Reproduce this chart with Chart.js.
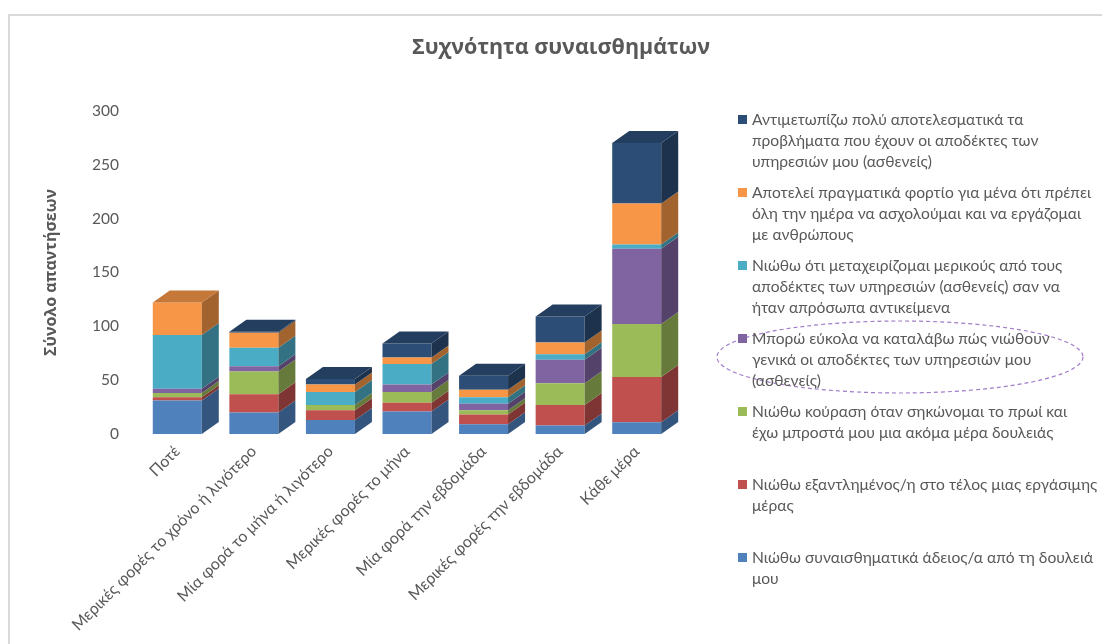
<!DOCTYPE html>
<html>
<head>
<meta charset="utf-8">
<script src="https://cdn.jsdelivr.net/npm/chart.js@4/dist/chart.umd.min.js"></script>
<style>
  html, body { margin: 0; padding: 0; background: #fff; overflow: hidden; }
  #wrap { position: relative; width: 1102px; height: 644px; }
  #frame { position: absolute; left: 8px; top: 14px; width: 1200px; height: 800px; border: 2px solid #d9d9d9; box-sizing: border-box; }
  #myChart { position: absolute; left: 0; top: 0; }
  #legend { position: absolute; left: 738px; top: 109px; width: 364px; font-family: Lato, "Noto Sans", sans-serif; font-size: 15.6px; color: #595959; }
  .item { position: relative; height: 73px; padding-left: 14px; line-height: 21px; white-space: nowrap; }
  .box { position: absolute; left: 0; top: 6px; width: 9px; height: 9px; }
</style>
</head>
<body>
<div id="wrap">
  <div id="frame"></div>
  <canvas id="myChart" width="1102" height="644"></canvas>
  <div id="legend"></div>
</div>
<script>
'use strict';

//Categories on the x axis
var categories = ['Ποτέ', 'Μερικές φορές το χρόνο ή λιγότερο', 'Μία φορά το μήνα ή λιγότερο', 'Μερικές φορές το μήνα', 'Μία φορά την εβδομάδα', 'Μερικές φορές την εβδομάδα', 'Κάθε μέρα'];

//Series names, split the way they wrap in the legend (bottom of the stack first)
var nameEmpty = ['Νιώθω συναισθηματικά άδειος/α από τη δουλειά', 'μου'];
var nameExhausted = ['Νιώθω εξαντλημένος/η στο τέλος μιας εργάσιμης', 'μέρας'];
var nameTired = ['Νιώθω κούραση όταν σηκώνομαι το πρωί και', 'έχω μπροστά μου μια ακόμα μέρα δουλειάς'];
var nameUnderstand = ['Μπορώ εύκολα να καταλάβω πώς νιώθουν', 'γενικά οι αποδέκτες των υπηρεσιών μου', '(ασθενείς)'];
var nameObjects = ['Νιώθω ότι μεταχειρίζομαι μερικούς από τους', 'αποδέκτες των υπηρεσιών (ασθενείς) σαν να', 'ήταν απρόσωπα αντικείμενα'];
var nameBurden = ['Αποτελεί πραγματικά φορτίο για μένα ότι πρέπει', 'όλη την ημέρα να ασχολούμαι και να εργάζομαι', 'με ανθρώπους'];
var nameEffective = ['Αντιμετωπίζω πολύ αποτελεσματικά τα', 'προβλήματα που έχουν οι αποδέκτες των', 'υπηρεσιών μου (ασθενείς)'];

//Answer counts per category
var emptyValues = [31, 20, 13, 21, 9, 8, 11];
var exhaustedValues = [3, 17, 9, 8, 9, 19, 42];
var tiredValues = [4, 21, 5, 10, 4, 20, 49];
var understandValues = [4, 5, 0, 7, 6, 22, 70];
var objectsValues = [50, 17, 12, 19, 6, 5, 4];
var burdenValues = [30, 14, 7, 6, 7, 11, 38];
var effectiveValues = [0, 1, 5, 13, 13, 24, 56];

//Y axis
var yTicks = [0, 50, 100, 150, 200, 250, 300];

var series = [
  { lines: nameEmpty, data: emptyValues, color: '#4f81bd' },
  { lines: nameExhausted, data: exhaustedValues, color: '#c0504d' },
  { lines: nameTired, data: tiredValues, color: '#9bbb59' },
  { lines: nameUnderstand, data: understandValues, color: '#8064a2' },
  { lines: nameObjects, data: objectsValues, color: '#4bacc6' },
  { lines: nameBurden, data: burdenValues, color: '#f79646' },
  { lines: nameEffective, data: effectiveValues, color: '#2c4d75' }
];

var textColor = '#595959';
var depthX = 17;
var depthY = 12;

//Darken a hex colour by a factor
function shade(hex, f) {
  var n = parseInt(hex.slice(1), 16);
  var r = Math.round(((n >> 16) & 255) * f);
  var g = Math.round(((n >> 8) & 255) * f);
  var b = Math.round((n & 255) * f);
  return 'rgb(' + r + ',' + g + ',' + b + ')';
}

//Side and top faces so the stacked columns look like boxes
var boxes = {
  id: 'boxes',
  afterDatasetsDraw: function(chart) {
    var ctx = chart.ctx;
    var metas = chart.getSortedVisibleDatasetMetas();
    ctx.save();
    for (var i = 0; i < categories.length; i++) {
      var topBar = null;
      var topColor = null;
      for (var d = 0; d < metas.length; d++) {
        var bar = metas[d].data[i];
        var value = chart.data.datasets[metas[d].index].data[i];
        if (!value) continue;
        var color = series[metas[d].index].color;
        var right = bar.x + bar.width / 2;
        ctx.fillStyle = shade(color, 0.66);
        ctx.beginPath();
        ctx.moveTo(right, bar.y);
        ctx.lineTo(right + depthX, bar.y - depthY);
        ctx.lineTo(right + depthX, bar.base - depthY);
        ctx.lineTo(right, bar.base);
        ctx.closePath();
        ctx.fill();
        topBar = bar;
        topColor = color;
      }
      if (topBar) {
        var l = topBar.x - topBar.width / 2;
        var r = topBar.x + topBar.width / 2;
        ctx.fillStyle = shade(topColor, 0.8);
        ctx.beginPath();
        ctx.moveTo(l, topBar.y);
        ctx.lineTo(l + depthX, topBar.y - depthY);
        ctx.lineTo(r + depthX, topBar.y - depthY);
        ctx.lineTo(r, topBar.y);
        ctx.closePath();
        ctx.fill();
      }
    }
    ctx.restore();
  },
  afterDraw: function(chart) {
    //dashed ring around the fourth legend entry
    var ctx = chart.ctx;
    ctx.save();
    ctx.strokeStyle = '#a07cc8';
    ctx.lineWidth = 1.2;
    ctx.setLineDash([4, 3]);
    ctx.beginPath();
    ctx.ellipse(900, 357, 183, 36, 0, 0, Math.PI * 2);
    ctx.stroke();
    ctx.restore();
  }
};

var datasets = [];
for (var s = 0; s < series.length; s++) {
  datasets.push({
    label: series[s].lines.join(' '),
    data: series[s].data,
    backgroundColor: series[s].color,
    borderWidth: 0,
    barPercentage: 0.64,
    categoryPercentage: 1
  });
}

//Legend, top entry of the stack first
var legend = document.getElementById('legend');
for (var k = series.length - 1; k >= 0; k--) {
  var item = document.createElement('div');
  item.className = 'item';
  var box = document.createElement('span');
  box.className = 'box';
  box.style.background = series[k].color;
  item.appendChild(box);
  item.appendChild(document.createTextNode(series[k].lines[0]));
  for (var j = 1; j < series[k].lines.length; j++) {
    item.appendChild(document.createElement('br'));
    item.appendChild(document.createTextNode(series[k].lines[j]));
  }
  legend.appendChild(item);
}

var ctx = document.getElementById('myChart').getContext('2d');
var chart = new Chart(ctx, {
  type: 'bar',
  data: {
    labels: categories,
    datasets: datasets
  },
  plugins: [boxes],
  options: {
    responsive: false,
    animation: false,
    events: [],
    layout: { padding: { left: 20, right: 0, top: 0, bottom: 0 } },
    plugins: {
      legend: { display: false },
      tooltip: { enabled: false },
      title: {
        display: true,
        text: 'Συχνότητα συναισθημάτων',
        color: textColor,
        font: { family: '"Open Sans", sans-serif', size: 21.5, weight: 'bold' },
        padding: { top: 35, bottom: 50 }
      }
    },
    scales: {
      x: {
        stacked: true,
        grid: { display: false, drawTicks: false },
        border: { display: false },
        ticks: {
          color: textColor,
          font: { family: 'Lato, "Noto Sans", sans-serif', size: 16 },
          minRotation: 45,
          maxRotation: 45,
          autoSkip: false,
          padding: 8
        },
        afterFit: function(scale) { scale.height = 210; }
      },
      y: {
        stacked: true,
        min: yTicks[0],
        max: yTicks[yTicks.length - 1],
        grid: { display: false, drawTicks: false },
        border: { display: false },
        afterBuildTicks: function(scale) {
          scale.ticks = yTicks.map(function(v) { return { value: v }; });
        },
        ticks: {
          color: textColor,
          font: { family: 'Lato, "Noto Sans", sans-serif', size: 15.5 },
          padding: 20
        },
        title: {
          display: true,
          text: 'Σύνολο απαντήσεων',
          color: textColor,
          font: { family: '"Open Sans", sans-serif', size: 16, weight: 'bold' },
          padding: { top: 22, bottom: 0 }
        },
        afterFit: function(scale) { scale.width = 119; }
      },
      //empty strip on the right that leaves room for the legend
      side: {
        type: 'linear',
        position: 'right',
        display: true,
        grid: { display: false, drawTicks: false },
        border: { display: false },
        ticks: { display: false },
        afterFit: function(scale) { scale.width = 427; }
      }
    }
  }
});
</script>
</body>
</html>
